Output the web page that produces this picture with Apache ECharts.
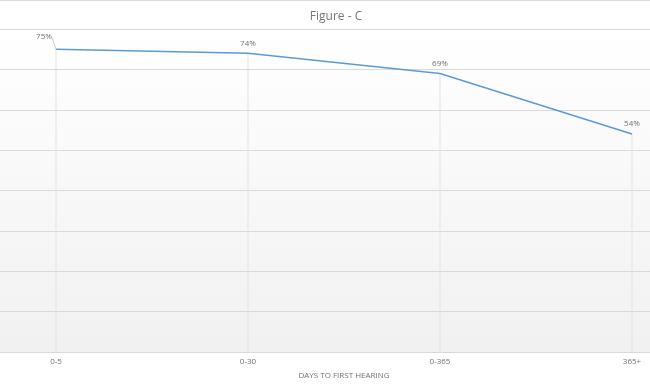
<!DOCTYPE html>
<html>
<head>
<meta charset="utf-8">
<script src="https://cdn.jsdelivr.net/npm/echarts@6/dist/echarts.min.js"></script>
<style>html,body{margin:0;padding:0;background:#fff;}#c{width:650px;height:385px;}</style>
</head>
<body>
<div id="c"></div>
<script>
var categories = ['0-5', '0-30', '0-365', '365+'];
var values = [75, 74, 69, 54];
var chartTitle = 'Figure - C';
var xAxisName = 'DAYS TO FIRST HEARING';

var font = 'Open Sans';
var chart = echarts.init(document.getElementById('c'), null, {renderer: 'canvas'});
var lineData = values.map(function (v, i) {
  return i === 0 ? {value: v, labelLine: {show: true}} : {value: v};
});
chart.setOption({
  animation: false,
  backgroundColor: '#fff',
  title: {
    text: chartTitle, left: 331, top: 6, textAlign: 'center',
    textStyle: {fontFamily: font, fontSize: 12, fontWeight: 'normal', color: '#767676'}
  },
  graphic: [{type: 'line', shape: {x1: 0, y1: 0.5, x2: 650, y2: 0.5}, style: {stroke: '#d9d9d9', lineWidth: 1}, silent: true}],
  grid: [
    {left: 0, right: 0, top: 29, bottom: 33, show: true, borderWidth: 0,
     backgroundColor: new echarts.graphic.LinearGradient(0, 0, 0, 1, [
       {offset: 0, color: '#ffffff'}, {offset: 1, color: '#f1f1f1'}])},
    {left: 56, right: 18, top: 29, bottom: 33}
  ],
  xAxis: [
    {gridIndex: 0, type: 'value', show: false, min: 0, max: 1},
    {gridIndex: 1, type: 'category', data: categories, boundaryGap: false,
     axisLine: {lineStyle: {color: '#d9d9d9'}}, axisTick: {show: false},
     splitLine: {show: false},
     axisLabel: {fontFamily: font, fontSize: 8, color: '#707070', margin: 6},
     name: xAxisName, nameLocation: 'middle', nameGap: 20,
     nameTextStyle: {fontFamily: font, fontSize: 8, color: '#707070'}}
  ],
  yAxis: [
    {gridIndex: 0, type: 'value', min: 0, max: 80, interval: 10,
     axisLine: {show: false}, axisTick: {show: false}, axisLabel: {show: false},
     splitLine: {lineStyle: {color: '#d9d9d9', width: 1}}},
    {gridIndex: 1, type: 'value', min: 0, max: 80, interval: 10, show: false, splitLine: {show: false}}
  ],
  series: [
    {type: 'bar', xAxisIndex: 1, yAxisIndex: 1, data: values, barWidth: 1,
     itemStyle: {color: '#e2e2e2'}, silent: true, z: 1},
    {type: 'line', xAxisIndex: 1, yAxisIndex: 1, data: lineData,
     symbol: 'circle', symbolSize: 0.01, showSymbol: true,
     itemStyle: {color: 'rgba(0,0,0,0)', borderWidth: 0},
     lineStyle: {color: '#5b9bd5', width: 1.5}, z: 3,
     label: {show: true, position: 'top', distance: 6, formatter: '{c}%',
             fontFamily: font, fontSize: 8, color: '#707070'},
     labelLine: {show: false, lineStyle: {color: '#c8c8c8', width: 1}},
     labelLayout: function (p) {
       if (p.dataIndex === 0) { return {dx: -12, dy: -2}; }
       return {};
     }}
  ]
});
</script>
</body>
</html>
